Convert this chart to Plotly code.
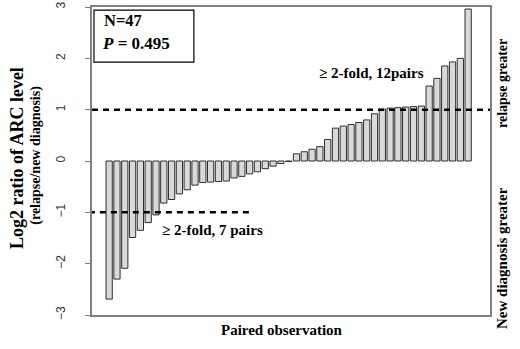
import plotly.graph_objects as go

# Data: log2 ratio per pair (sorted), 47 pairs
log2_ratio = [-2.69, -2.30, -2.09, -1.49, -1.35, -1.20, -1.05, -0.82, -0.75, -0.64,
              -0.56, -0.47, -0.42, -0.41, -0.40, -0.39, -0.33, -0.30, -0.25, -0.21,
              -0.15, -0.10, -0.05, -0.01,
              0.14, 0.18, 0.23, 0.28, 0.42, 0.64, 0.68, 0.71, 0.75, 0.80, 0.92,
              1.01, 1.03, 1.04, 1.05, 1.06, 1.07, 1.46, 1.61, 1.85, 1.93, 2.00, 2.96]
pair_index = list(range(1, len(log2_ratio) + 1))
y_ticks = [-3, -2, -1, 0, 1, 2, 3]
fold_threshold = 1

SERIF = "Liberation Serif, Times New Roman, serif"
SANS = "Liberation Sans, Arial, sans-serif"

fig = go.Figure()
fig.add_trace(go.Bar(
    x=pair_index, y=log2_ratio, width=0.8,
    marker=dict(color="#d9d9d9", line=dict(color="#2e2e2e", width=1)),
    showlegend=False,
))

# dashed threshold lines
fig.add_shape(type="line", xref="x", yref="y", x0=-1.2, x1=50.3,
              y0=fold_threshold, y1=fold_threshold,
              line=dict(color="black", width=2.5, dash="6px,5px"))
fig.add_shape(type="line", xref="x", yref="y", x0=-1.6, x1=19.1,
              y0=-fold_threshold, y1=-fold_threshold,
              line=dict(color="black", width=2.5, dash="6px,5px"))

def note(text, x, y, size, angle=0, xref="paper", yref="paper", xanchor="center"):
    fig.add_annotation(xref=xref, yref=yref, x=x, y=y, text=text, textangle=angle,
                       xanchor=xanchor, yanchor="middle", showarrow=False,
                       font=dict(family=SERIF, size=size, color="black"))

# info box
fig.add_shape(type="rect", xref="paper", yref="paper", x0=0.005, x1=0.256,
              y0=0.821, y1=0.990, line=dict(color="black", width=1.2),
              fillcolor="white")
note("<b>N=47</b>", 0.026, 0.957, 16.5, xanchor="left")
note("<b><i>P</i> = 0.495</b>", 0.02, 0.882, 17, xanchor="left")

note("<b>≥ 2-fold, 12pairs</b>", 34.6, 1.71, 15, xref="x", yref="y")
note("<b>≥ 2-fold, 7 pairs</b>", 14.3, -1.34, 15, xref="x", yref="y")

# axis titles
note("<b>Log2 ratio of ARC level</b>", -0.188, 0.51, 18, angle=-90)
note("<b>(relapse/new diagnosis)</b>", -0.141, 0.52, 14, angle=-90)
note("<b>Paired observation</b>", 0.477, -0.049, 15)
note("<b>relapse greater</b>", 1.03, 0.753, 14, angle=-90)
note("<b>New diagnosis greater</b>", 1.03, 0.185, 15, angle=-90)

fig.update_layout(
    width=520, height=349,
    margin=dict(l=92, r=30, t=7, b=34, autoexpand=False),
    plot_bgcolor="white", paper_bgcolor="white",
    bargap=0.2,
    xaxis=dict(range=[-1.2, 49.8], showticklabels=False, ticks="",
               showgrid=False, zeroline=False, showline=True, automargin=False,
               linecolor="#808080", linewidth=1.5, mirror=True),
    yaxis=dict(range=[-3, 3], tickvals=y_ticks, ticks="outside", ticklen=5,
               tickcolor="#808080", tickangle=-90, ticklabelstandoff=15,
               tickfont=dict(family=SANS, size=12, color="#333"),
               showgrid=False, zeroline=False, showline=True, automargin=False,
               linecolor="#808080", linewidth=1.5, mirror=True),
)

fig.write_html("out.html", config={"displayModeBar": False},
               post_script="document.body.style.margin='0';document.body.style.padding='0';")
